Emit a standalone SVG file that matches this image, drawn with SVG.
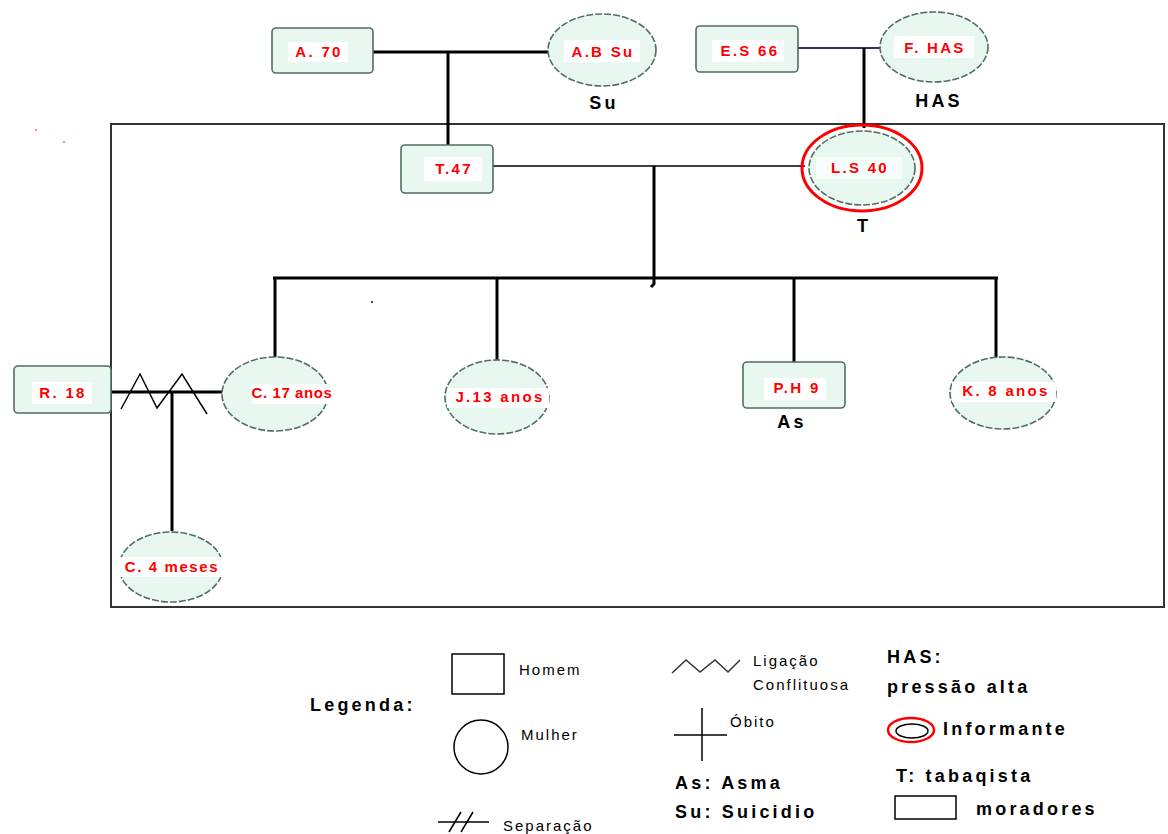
<svg xmlns="http://www.w3.org/2000/svg" width="1168" height="834" viewBox="0 0 1168 834">
<style>
.m{fill:#e8f8f1;stroke:#4f6f5f;stroke-width:1.6}
.f{fill:#e8f8f1;stroke:#4f6f5f;stroke-width:1.6;stroke-dasharray:7 2}
.lb{font-family:"Liberation Sans",Arial,sans-serif;font-weight:bold;font-size:15px;fill:#ff0000;text-anchor:middle;letter-spacing:2.3px}
.bg{fill:#ffffff}
.k{font-family:"Liberation Sans",Arial,sans-serif;font-weight:bold;font-size:18px;fill:#000;letter-spacing:3.2px}
.n{font-family:"Liberation Sans",Arial,sans-serif;font-size:15px;fill:#000;letter-spacing:2px}
.c{stroke:#000;stroke-width:3;fill:none}
.t{stroke:#000;stroke-width:1.5;fill:none}
</style>
<rect id="frame" x="111" y="124" width="1053" height="483" fill="none" stroke="#333" stroke-width="2"/>
<circle cx="36" cy="130" r="1" fill="#ff6060"/>
<circle cx="64" cy="142" r="1" fill="#ff6060"/>
<circle cx="372" cy="302" r="1" fill="#000"/>
<g id="connectors">
<line class="c" x1="373" y1="52" x2="548" y2="52"/>
<line class="c" x1="448" y1="52" x2="448" y2="145"/>
<line x1="798" y1="48" x2="880" y2="48" stroke="#33335a" stroke-width="2"/>
<line class="c" x1="864" y1="48" x2="864" y2="128"/>
<line x1="493" y1="166" x2="805" y2="166" stroke="#000" stroke-width="1.6"/>
<polyline class="c" points="654,166 654,284 651,287"/>
<line class="c" x1="273" y1="278" x2="998" y2="278"/>
<line class="c" x1="275" y1="278" x2="275" y2="358"/>
<line class="c" x1="497" y1="278" x2="497" y2="360"/>
<line class="c" x1="794" y1="278" x2="794" y2="362"/>
<line class="c" x1="996" y1="278" x2="996" y2="360"/>
<line class="c" x1="111" y1="392" x2="222" y2="392"/>
<polyline class="t" points="121,409 140,374 157,408 182,374 207,414"/>
<line class="c" x1="172" y1="392" x2="172" y2="531"/>
</g>
<g id="n-a70">
<rect class="m" x="272" y="28" width="101" height="45" rx="4"/>
<rect class="bg" x="288" y="42" width="60" height="20"/>
<text class="lb" x="319" y="57">A. 70</text>
</g>
<g id="n-abSu">
<ellipse class="f" cx="602" cy="50" rx="54" ry="36"/>
<rect class="bg" x="564" y="40" width="76" height="22"/>
<text class="lb" x="603" y="57">A.B Su</text>
<text class="k" x="604" y="109" text-anchor="middle">Su</text>
</g>
<g id="n-es66">
<rect class="m" x="696" y="26" width="102" height="46" rx="4"/>
<rect class="bg" x="712" y="40" width="72" height="22"/>
<text class="lb" x="750" y="56">E.S 66</text>
</g>
<g id="n-fhas">
<ellipse class="f" cx="934" cy="47" rx="54" ry="35"/>
<rect class="bg" x="894" y="36" width="80" height="22"/>
<text class="lb" x="935" y="53">F. HAS</text>
<text class="k" x="939" y="107" text-anchor="middle">HAS</text>
</g>
<g id="n-t47">
<rect class="m" x="401" y="145" width="92" height="48" rx="4"/>
<rect class="bg" x="424" y="157" width="58" height="24"/>
<text class="lb" x="454" y="174">T.47</text>
</g>
<g id="n-ls40">
<ellipse cx="862" cy="168" rx="60" ry="43" fill="none" stroke="#ff0000" stroke-width="3"/>
<ellipse class="f" cx="862" cy="168" rx="53" ry="37"/>
<rect class="bg" x="816" y="157" width="86" height="22" fill-opacity="0.6"/>
<text class="lb" x="860" y="173">L.S 40</text>
<text class="k" x="864" y="232" text-anchor="middle">T</text>
</g>
<g id="n-r18">
<rect class="m" x="14" y="366" width="97" height="47" rx="4"/>
<rect class="bg" x="32" y="382" width="60" height="22"/>
<text class="lb" x="63" y="398">R. 18</text>
</g>
<g id="n-c17">
<ellipse class="f" cx="275" cy="394" rx="53" ry="37"/>
<rect class="bg" x="252" y="384" width="78" height="20"/>
<text class="lb" x="292" y="398" style="letter-spacing:0.6px">C. 17 anos</text>
</g>
<g id="n-j13">
<ellipse class="f" cx="497" cy="397" rx="52" ry="37"/>
<rect class="bg" x="447" y="388" width="102" height="20"/>
<text class="lb" x="500" y="402">J.13 anos</text>
</g>
<g id="n-ph9">
<rect class="m" x="743" y="362" width="102" height="46" rx="4"/>
<rect class="bg" x="764" y="378" width="62" height="22"/>
<text class="lb" x="797" y="393">P.H 9</text>
<text class="k" x="792" y="428" text-anchor="middle">As</text>
</g>
<g id="n-k8">
<ellipse class="f" cx="1003" cy="393" rx="53" ry="36"/>
<rect class="bg" x="952" y="382" width="104" height="20"/>
<text class="lb" x="1006" y="396">K. 8 anos</text>
</g>
<g id="n-c4">
<ellipse class="f" cx="171" cy="567" rx="52" ry="35"/>
<rect class="bg" x="116" y="557" width="110" height="20"/>
<text class="lb" x="172" y="572" style="letter-spacing:1.6px">C. 4 meses</text>
</g>
<g id="legend">
<text class="k" x="310" y="711">Legenda:</text>
<rect x="452" y="654" width="52" height="40" fill="none" stroke="#000" stroke-width="1.5"/>
<text class="n" x="519" y="675">Homem</text>
<circle cx="481" cy="747" r="27" fill="none" stroke="#000" stroke-width="1.5"/>
<text class="n" x="521" y="740">Mulher</text>
<line x1="438" y1="822" x2="489" y2="822" stroke="#000" stroke-width="1.5"/>
<line x1="449" y1="832" x2="461" y2="812" stroke="#000" stroke-width="1.5"/>
<line x1="461" y1="832" x2="473" y2="812" stroke="#000" stroke-width="1.5"/>
<text class="n" x="503" y="831">Separação</text>
<polyline points="672,673 686,660 700,672 715,660 728,672 740,660" fill="none" stroke="#333" stroke-width="1.5"/>
<text class="n" x="753" y="666">Ligação</text>
<text class="n" x="753" y="690">Conflituosa</text>
<line x1="702" y1="708" x2="702" y2="761" stroke="#000" stroke-width="1.5"/>
<line x1="674" y1="735" x2="727" y2="735" stroke="#000" stroke-width="1.5"/>
<text class="n" x="730" y="727">Óbito</text>
<text class="k" x="675" y="789">As: Asma</text>
<text class="k" x="675" y="818">Su: Suicidio</text>
<text class="k" x="887" y="663">HAS:</text>
<text class="k" x="887" y="693">pressão alta</text>
<ellipse cx="911" cy="730" rx="23" ry="12" fill="none" stroke="#ff0000" stroke-width="2.5"/>
<ellipse cx="912" cy="731" rx="16" ry="7" fill="none" stroke="#000" stroke-width="1.5"/>
<text class="k" x="943" y="735">Informante</text>
<text class="k" x="896" y="782">T: tabaqista</text>
<rect x="895" y="796" width="61" height="23" fill="none" stroke="#000" stroke-width="1.5"/>
<text class="k" x="976" y="815">moradores</text>
</g>
</svg>
